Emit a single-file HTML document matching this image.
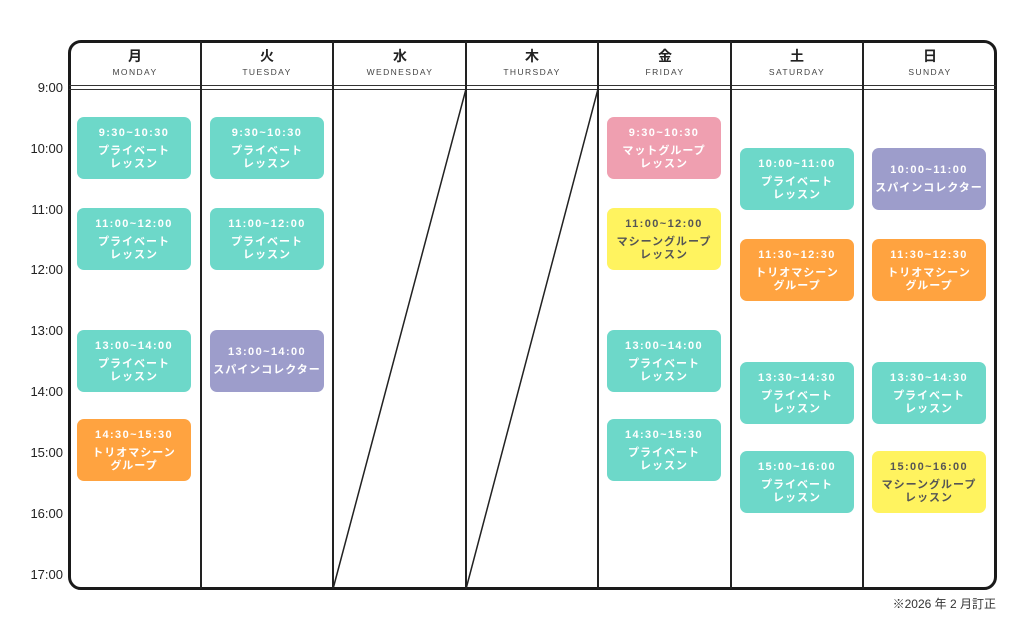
<!DOCTYPE html>
<html><head><meta charset="utf-8"><style>
*{margin:0;padding:0;box-sizing:border-box}
body{width:1024px;height:619px;background:#fff;position:relative;overflow:hidden;font-family:"Liberation Sans","Noto Sans CJK JP",sans-serif;color:#222}
.box{position:absolute;left:68px;top:40px;width:929px;height:550px;border:3px solid #1a1a1a;border-radius:13px}
.vl{position:absolute;top:41px;height:548px;width:1.5px;background:#222}
.hl{position:absolute;left:69px;width:927px;height:1.3px;background:#333}
.hd{position:absolute;top:48px;width:132px;text-align:center}
.hd b{display:block;font-size:14px;font-weight:bold;line-height:16px}
.hd span{display:block;font-size:8.5px;letter-spacing:1.4px;color:#444;margin-top:3px}
.tm{position:absolute;left:0;width:63px;text-align:right;font-size:13px;color:#222}
.c{position:absolute;width:114px;border-radius:7px;color:#fff;display:flex;flex-direction:column;justify-content:center;align-items:center;font-weight:bold;text-align:center}
.c .t{font-size:11px;letter-spacing:1.4px;line-height:14px;margin-bottom:5px}
.c .n{font-size:11px;letter-spacing:1px;line-height:13px}
.g{background:#6dd8c9}.p{background:#ef9fb0}.y{background:#fff35f;color:#555}.o{background:#ffa340}.v{background:#9d9dcb}
</style></head><body>
<div class="box"></div>
<div class="hl" style="top:85px"></div><div class="hl" style="top:89px"></div>
<div class="vl" style="left:200px"></div><div class="vl" style="left:332px"></div><div class="vl" style="left:465px"></div><div class="vl" style="left:597px"></div><div class="vl" style="left:730px"></div><div class="vl" style="left:862px"></div>
<svg style="position:absolute;left:0;top:0" width="1024" height="619"><line x1="333" y1="589" x2="466" y2="89" stroke="#222" stroke-width="1.5"/><line x1="466" y1="589" x2="598" y2="89" stroke="#222" stroke-width="1.5"/></svg>
<div class="hd" style="left:69px"><b>月</b><span>MONDAY</span></div>
<div class="hd" style="left:201px"><b>火</b><span>TUESDAY</span></div>
<div class="hd" style="left:334px"><b>水</b><span>WEDNESDAY</span></div>
<div class="hd" style="left:466px"><b>木</b><span>THURSDAY</span></div>
<div class="hd" style="left:599px"><b>金</b><span>FRIDAY</span></div>
<div class="hd" style="left:731px"><b>土</b><span>SATURDAY</span></div>
<div class="hd" style="left:864px"><b>日</b><span>SUNDAY</span></div>
<div class="tm" style="top:80px">9:00</div><div class="tm" style="top:141px">10:00</div><div class="tm" style="top:202px">11:00</div><div class="tm" style="top:262px">12:00</div><div class="tm" style="top:323px">13:00</div><div class="tm" style="top:384px">14:00</div><div class="tm" style="top:445px">15:00</div><div class="tm" style="top:506px">16:00</div><div class="tm" style="top:567px">17:00</div>

<div class="c g" style="left:77px;top:117px;height:62px"><div class="t">9:30~10:30</div><div class="n">プライベート<br>レッスン</div></div>
<div class="c g" style="left:77px;top:208px;height:62px"><div class="t">11:00~12:00</div><div class="n">プライベート<br>レッスン</div></div>
<div class="c g" style="left:77px;top:330px;height:62px"><div class="t">13:00~14:00</div><div class="n">プライベート<br>レッスン</div></div>
<div class="c o" style="left:77px;top:419px;height:62px"><div class="t">14:30~15:30</div><div class="n">トリオマシーン<br>グループ</div></div>

<div class="c g" style="left:210px;top:117px;height:62px"><div class="t">9:30~10:30</div><div class="n">プライベート<br>レッスン</div></div>
<div class="c g" style="left:210px;top:208px;height:62px"><div class="t">11:00~12:00</div><div class="n">プライベート<br>レッスン</div></div>
<div class="c v" style="left:210px;top:330px;height:62px"><div class="t">13:00~14:00</div><div class="n">スパインコレクター</div></div>

<div class="c p" style="left:607px;top:117px;height:62px"><div class="t">9:30~10:30</div><div class="n">マットグループ<br>レッスン</div></div>
<div class="c y" style="left:607px;top:208px;height:62px"><div class="t">11:00~12:00</div><div class="n">マシーングループ<br>レッスン</div></div>
<div class="c g" style="left:607px;top:330px;height:62px"><div class="t">13:00~14:00</div><div class="n">プライベート<br>レッスン</div></div>
<div class="c g" style="left:607px;top:419px;height:62px"><div class="t">14:30~15:30</div><div class="n">プライベート<br>レッスン</div></div>

<div class="c g" style="left:740px;top:148px;height:62px"><div class="t">10:00~11:00</div><div class="n">プライベート<br>レッスン</div></div>
<div class="c o" style="left:740px;top:239px;height:62px"><div class="t">11:30~12:30</div><div class="n">トリオマシーン<br>グループ</div></div>
<div class="c g" style="left:740px;top:362px;height:62px"><div class="t">13:30~14:30</div><div class="n">プライベート<br>レッスン</div></div>
<div class="c g" style="left:740px;top:451px;height:62px"><div class="t">15:00~16:00</div><div class="n">プライベート<br>レッスン</div></div>

<div class="c v" style="left:872px;top:148px;height:62px"><div class="t">10:00~11:00</div><div class="n">スパインコレクター</div></div>
<div class="c o" style="left:872px;top:239px;height:62px"><div class="t">11:30~12:30</div><div class="n">トリオマシーン<br>グループ</div></div>
<div class="c g" style="left:872px;top:362px;height:62px"><div class="t">13:30~14:30</div><div class="n">プライベート<br>レッスン</div></div>
<div class="c y" style="left:872px;top:451px;height:62px"><div class="t">15:00~16:00</div><div class="n">マシーングループ<br>レッスン</div></div>

<div style="position:absolute;left:880px;top:595px;width:116px;text-align:right;font-size:12px;color:#333">※2026 年 2 月訂正</div>
</body></html>
